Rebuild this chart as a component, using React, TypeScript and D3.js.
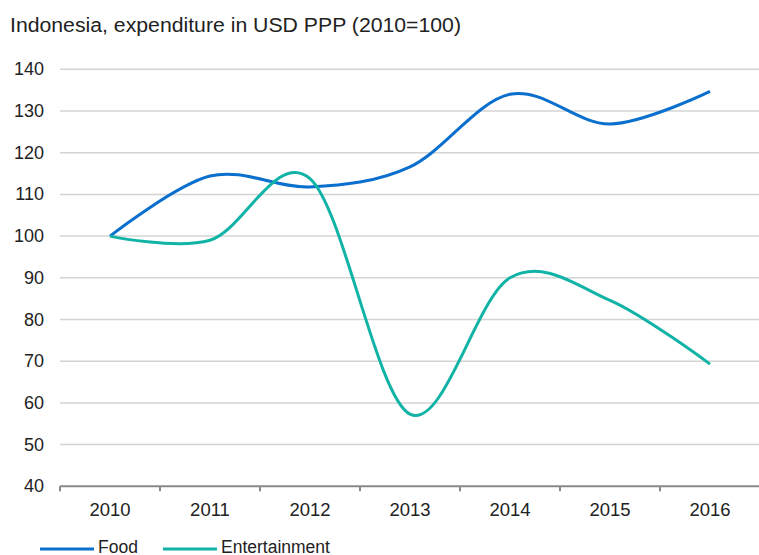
import React from "react";
import * as d3 from "d3";

const years = ["2010", "2011", "2012", "2013", "2014", "2015", "2016"];
const food = [100, 114.4, 111.8, 116.6, 134.0, 126.9, 134.7];
const entertainment = [100, 99.0, 113.8, 57.3, 90.0, 84.6, 69.3];
const yTicks = [40, 50, 60, 70, 80, 90, 100, 110, 120, 130, 140];

const W = 759;
const H = 555;
const left = 60;
const right = 760;
const top = 69.3;
const bottom = 486.3;

export default function App() {
  const x = d3.scaleBand<string>().domain(years).range([left, right]).padding(0);
  const y = d3.scaleLinear().domain([40, 140]).range([bottom, top]);
  const line = d3
    .line<number>()
    .x((_, i) => (x(years[i]) as number) + x.bandwidth() / 2)
    .y((d) => y(d))
    .curve(d3.curveCardinal.tension(0));
  const font = "'Liberation Sans', Arial, sans-serif";
  const series = [
    { name: "Food", values: food, color: "#0a6fcd" },
    { name: "Entertainment", values: entertainment, color: "#10b3a5" },
  ];
  return (
    <svg
      width={W}
      height={H}
      style={{ position: "absolute", left: 0, top: 0, background: "#fff" }}
      fontFamily={font}
    >
      <text x={10} y={32} fontSize={20} fill="#222" textLength={451} lengthAdjust="spacingAndGlyphs">
        Indonesia, expenditure in USD PPP (2010=100)
      </text>
      {yTicks.map((t) =>
        t === 40 ? null : (
          <line key={t} x1={left} x2={W} y1={y(t)} y2={y(t)} stroke="#d4d4d4" strokeWidth={1.5} />
        )
      )}
      {yTicks.map((t) => (
        <text key={"l" + t} x={44} y={y(t) + 6} fontSize={18} textAnchor="end" fill="#222">
          {t}
        </text>
      ))}
      <line x1={left} x2={W} y1={bottom} y2={bottom} stroke="#8a8a8a" strokeWidth={2} />
      {years.map((yr) => (
        <line
          key={"t" + yr}
          x1={x(yr) as number}
          x2={x(yr) as number}
          y1={bottom}
          y2={bottom + 5}
          stroke="#8a8a8a"
          strokeWidth={2}
        />
      ))}
      {years.map((yr) => (
        <text
          key={"x" + yr}
          x={(x(yr) as number) + x.bandwidth() / 2}
          y={516}
          fontSize={18.5}
          textAnchor="middle"
          fill="#222"
        >
          {yr}
        </text>
      ))}
      {series.map((s) => (
        <path key={s.name} d={line(s.values) || ""} fill="none" stroke={s.color} strokeWidth={3} />
      ))}
      <g>
        <line x1={40} x2={94} y1={549} y2={549} stroke={series[0].color} strokeWidth={3} />
        <text x={98} y={553} fontSize={17.5} fill="#222">Food</text>
        <line x1={163} x2={217} y1={549} y2={549} stroke={series[1].color} strokeWidth={3} />
        <text x={221} y={553} fontSize={17.5} fill="#222">Entertainment</text>
      </g>
    </svg>
  );
}
